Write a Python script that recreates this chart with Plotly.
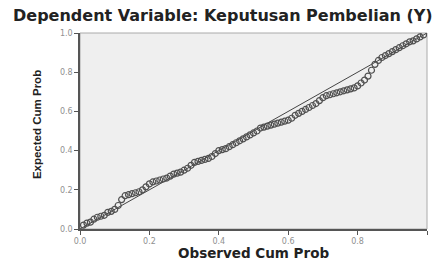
import plotly.graph_objects as go

observed = [0.01,0.02,0.03,0.04,0.05,0.06,0.07,0.08,0.09,0.10,
            0.11,0.12,0.13,0.14,0.15,0.16,0.17,0.18,0.19,0.20,
            0.21,0.22,0.23,0.24,0.25,0.26,0.27,0.28,0.29,0.30,
            0.31,0.32,0.33,0.34,0.35,0.36,0.37,0.38,0.39,0.40,
            0.41,0.42,0.43,0.44,0.45,0.46,0.47,0.48,0.49,0.50,
            0.51,0.52,0.53,0.54,0.55,0.56,0.57,0.58,0.59,0.60,
            0.61,0.62,0.63,0.64,0.65,0.66,0.67,0.68,0.69,0.70,
            0.71,0.72,0.73,0.74,0.75,0.76,0.77,0.78,0.79,0.80,
            0.81,0.82,0.83,0.84,0.85,0.86,0.87,0.88,0.89,0.90,
            0.91,0.92,0.93,0.94,0.95,0.96,0.97,0.98,0.99]
expected = [0.02,0.03,0.035,0.05,0.06,0.065,0.07,0.085,0.09,0.10,
            0.12,0.15,0.17,0.175,0.18,0.185,0.19,0.20,0.215,0.23,
            0.24,0.245,0.25,0.255,0.26,0.27,0.28,0.285,0.29,0.30,
            0.31,0.325,0.34,0.345,0.35,0.355,0.36,0.37,0.385,0.40,
            0.405,0.41,0.42,0.43,0.44,0.45,0.46,0.47,0.48,0.49,
            0.50,0.515,0.52,0.525,0.53,0.535,0.54,0.545,0.55,0.555,
            0.565,0.58,0.59,0.60,0.61,0.62,0.63,0.64,0.655,0.67,
            0.68,0.685,0.69,0.695,0.70,0.705,0.71,0.715,0.72,0.73,
            0.745,0.76,0.78,0.81,0.84,0.86,0.875,0.885,0.895,0.905,
            0.915,0.925,0.935,0.945,0.955,0.96,0.97,0.98,0.99]
ref_line = [0.0, 1.0]
tick_vals = [0.0, 0.2, 0.4, 0.6, 0.8, 1.0]
tick_text = ["0.0", "0.2", "0.4", "0.6", "0.8", "1.0"]

fig = go.Figure()
fig.add_trace(go.Scatter(x=ref_line, y=ref_line, mode="lines",
                         line=dict(color="#444444", width=1), hoverinfo="skip"))
fig.add_trace(go.Scatter(x=observed, y=expected, mode="markers",
                         marker=dict(symbol="circle-open", size=6,
                                     color="#505050", line=dict(width=1.2))))

axis_common = dict(range=[0, 1], tickvals=tick_vals, ticktext=tick_text,
                   showgrid=False, zeroline=False, showline=True,
                   linecolor="#555555", linewidth=1.5, ticks="outside",
                   ticklen=4, tickcolor="#555555", tickwidth=1,
                   automargin=False,
                   tickfont=dict(family="DejaVu Sans", size=8,
                                 color="#909090"))
fig.update_xaxes(**axis_common)
fig.update_yaxes(**axis_common)

fig.update_layout(
    width=432, height=260,
    margin=dict(l=80, r=5, t=33, b=31),
    paper_bgcolor="white", plot_bgcolor="#efefef",
    showlegend=False,
    shapes=[dict(type="rect", xref="paper", yref="paper", x0=0, y0=0, x1=1, y1=1,
                 line=dict(color="#aaaaaa", width=1), layer="below")],
    annotations=[
        dict(text="<b>Dependent Variable: Keputusan Pembelian (Y)</b>",
             xref="paper", yref="paper", x=-0.199, y=1.09, xanchor="left",
             yanchor="middle", showarrow=False,
             font=dict(family="DejaVu Sans", size=16, color="#222222")),
        dict(text="<b>Observed Cum Prob</b>", xref="paper", yref="paper",
             x=0.5, y=-0.122, xanchor="center", yanchor="middle", showarrow=False,
             font=dict(family="DejaVu Sans", size=13.5, color="#222222")),
        dict(text="<b>Expected Cum Prob</b>", xref="paper", yref="paper",
             x=-0.124, y=0.535, xanchor="center", yanchor="middle", showarrow=False,
             textangle=-90,
             font=dict(family="Liberation Sans", size=11.5, color="#222222")),
    ],
)

fig.write_html("out.html", config={"displayModeBar": False},
               post_script="document.body.style.margin='0';document.body.style.padding='0';")
